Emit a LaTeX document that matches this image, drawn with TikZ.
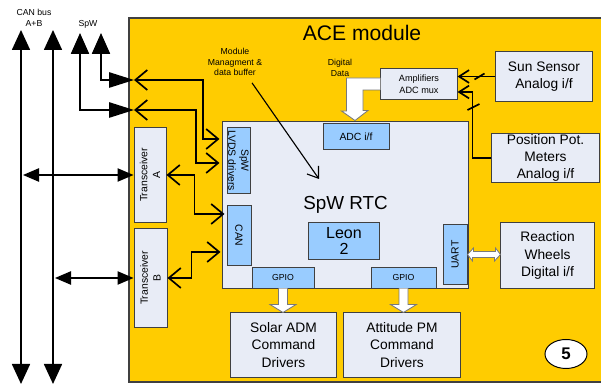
\documentclass[tikz,border=0pt]{standalone}
\usepackage{fontspec}
\setmainfont{Liberation Sans}
\usepackage{tikz}
\usetikzlibrary{arrows.meta, calc, positioning, shapes.geometric}

\definecolor{acegold}{HTML}{FFCC00}
\definecolor{panel}{HTML}{E8ECF6}
\definecolor{chip}{HTML}{99CCFF}
\definecolor{edge}{HTML}{404040}

\tikzset{
  panelbox/.style={draw=edge, fill=panel, line width=0.7pt, inner sep=0pt, align=center},
  chipbox/.style={draw=edge, fill=chip, line width=0.7pt, inner sep=0pt, align=center},
  wire/.style={line width=1.2pt},
  busline/.style={wire, {Triangle[length=0.5cm,width=0.45cm]}-{Triangle[length=0.5cm,width=0.45cm]}},
  spwline/.style={wire, {Triangle[length=0.52cm,width=0.45cm]}-{Triangle[length=0.62cm,width=0.38cm]}},
  tap/.style={wire, {Triangle[length=0.4cm,width=0.33cm]}-{Triangle[length=0.4cm,width=0.33cm]}},
  barbs/.style={wire, {Straight Barb[length=0.3cm,width=0.5cm]}-{Straight Barb[length=0.3cm,width=0.5cm]}},
  ampin/.style={wire, -{Straight Barb[length=0.25cm,width=0.32cm]}},
  hollow/.style={draw=edge!70, fill=white, line width=0.6pt},
  txtS/.style={font=\fontsize{6.2}{7.6}\selectfont},
  txtR/.style={font=\fontsize{7.4}{9.2}\selectfont},
  txtM/.style={font=\fontsize{9.8}{12.2}\selectfont},
}

\begin{document}
\begin{tikzpicture}[x=0.025cm, y=-0.025cm, >=Stealth]
  \useasboundingbox (0,0) rectangle (601,385);
  % module frame
  \node[draw=edge, fill=acegold, line width=0.8pt, inner sep=0pt, minimum width=11.8cm, minimum height=9.1cm] (ace) at (365,200) {};
  \node[font=\fontsize{15}{18}\selectfont] (title) at (362,33) {ACE module};
  \node[txtS, align=center] (canlbl) at (34,18) {CAN bus\\A+B};
  \node[txtS] (spwlbl) at (88,24) {SpW};

  % boxes
  \node[panelbox, font=\fontsize{13.4}{16}\selectfont, minimum width=6.125cm, minimum height=4.15cm] (rtc) at (345.5,205) {SpW RTC};
  \node[chipbox, txtR, rotate=-90, minimum width=1.625cm, minimum height=0.575cm] (lvds) at (238.5,160.5) {SpW\\LVDS drivers};
  \node[chipbox, txtR, rotate=-90, minimum width=1.475cm, minimum height=0.6cm] (can) at (239,235.5) {CAN};
  \node[chipbox, txtR, minimum width=1.65cm, minimum height=0.625cm] (adc) at (356,136.5) {ADC i/f};
  \node[chipbox, font=\fontsize{11.4}{11}\selectfont, minimum width=1.75cm, minimum height=0.9cm] (leon) at (344,241) {Leon\\2};
  \node[chipbox, txtR, rotate=90, minimum width=1.475cm, minimum height=0.6cm] (uart) at (455,254.5) {UART};
  \node[chipbox, txtS, minimum width=1.55cm, minimum height=0.525cm] (gpioL) at (283,277.5) {GPIO};
  \node[chipbox, txtS, minimum width=1.625cm, minimum height=0.525cm] (gpioR) at (403.5,277.5) {GPIO};
  \node[panelbox, txtR, rotate=90, minimum width=2.35cm, minimum height=0.8cm] (transA) at (150,175) {Transceiver\\A};
  \node[panelbox, txtR, rotate=90, minimum width=2.45cm, minimum height=0.825cm] (transB) at (150.5,278) {Transceiver\\B};
  \node[panelbox, txtM, minimum width=2.625cm, minimum height=1.6cm] (solar) at (283.5,345) {Solar ADM\\Command\\Drivers};
  \node[panelbox, txtM, minimum width=2.9cm, minimum height=1.6cm] (att) at (402,345) {Attitude PM\\Command\\Drivers};
  \node[panelbox, txtM, minimum width=2.325cm, minimum height=1.625cm] (react) at (547.5,255.5) {Reaction\\Wheels\\Digital i/f};
  \node[panelbox, txtM, minimum width=2.4cm, minimum height=1.225cm] (sun) at (544,76.5) {Sun Sensor\\Analog i/f};
  \node[panelbox, txtM, minimum width=2.675cm, minimum height=1.2cm] (pos) at (545.5,158) {Position Pot.\\Meters\\Analog i/f};
  \node[panelbox, font=\fontsize{6.5}{8.4}\selectfont, minimum width=1.9cm, minimum height=0.75cm] (amp) at (419,84) {Amplifiers\\ADC mux};
  \node[draw=black, fill=white, ellipse, line width=0.7pt, inner sep=0pt, minimum width=1.05cm, minimum height=0.725cm, font=\bfseries\fontsize{12}{14}\selectfont] (five) at (566,354) {5};
  \node[txtS, align=center] (mgmt) at (235,62) {Module\\Managment \&\\data buffer};
  \node[txtS, align=center] (digdata) at (340,68) {Digital\\Data};

  % buses on the left
  \coordinate (busAtop) at (21,30);
  \coordinate (busAbot) at (21,384);
  \coordinate (busBtop) at (53,30);
  \coordinate (busBbot) at (53,384);
  \coordinate (spw1) at (101,33);
  \coordinate (spw2) at (80,33);
  \coordinate (port1) at (134,80);
  \coordinate (port2) at (134,110);
  \draw[busline] (busAtop) -- (busAbot);
  \draw[busline] (busBtop) -- (busBbot);
  \draw[tap] ($(busAtop |- transA.north)+(2,0)$) -- (transA.north);
  \draw[tap] ($(busBtop |- transB.north)+(2,0)$) -- (transB.north);
  \draw[spwline] (spw1) |- (port1);
  \draw[spwline] (spw2) |- (port2);

  % links inside the module
  \draw[barbs] (port1) -- ++(69,0) |- ($(lvds.south)+(-7,-21.5)$);
  \draw[barbs] (port2) -- ++(62,0) |- ($(lvds.south)+(-7,2.5)$);
  \draw[barbs] (transA.south) -- ++(28,0) |- ($(can.south)+(-2,-21.5)$);
  \draw[barbs] (transB.south) -- ++(24,0) |- ($(can.south)+(-6,16.5)$);
  \draw[ampin] (sun.west) -- (amp.east |- sun.west);
  \draw[wire] ($(sun.west)+(-21,3)$) -- ++(10,-6);
  \draw[ampin] (pos.west) -- ++(-19,0) |- ($(amp.east)+(0,8)$);
  \draw[wire] ($(pos.west)+(-24,-48)$) -- ++(12,-6);
  \draw[line width=0.8pt, -{Straight Barb[length=0.25cm,width=0.35cm]}] ($(mgmt.south)+(17,2)$) -- ($(rtc.center)+(-26.5,-26)$);

  % block arrows
  \draw[hollow] ($(amp.west)+(0,-6)$) -- ++(-34,0) -- ++(0,33) -- ++(-5,0) -- ($(adc.north)+(-1,-3)$) -- ++(13,-10) -- ++(-5,0) |- ($(amp.west)+(0,6)$);
  \foreach \src/\dst in {gpioL/solar, gpioR/att} {
    \draw[hollow] ($(\src.south)+(-4.5,0)$) |- ++(-8.5,16) -- (\src.south |- \dst.north) -- ($(\src.south)+(13,16)$) -- ++(-8.5,0) -- ($(\src.south)+(4.5,0)$);
  }
  \draw[hollow] (uart.south) -- ++(6,-6.5) -- ++(0,3.5) -- ++(22,0) -- ++(0,-3.5) -- (react.west |- uart.south) -- ++(-6,6.5) -- ++(0,-3.5) -- ++(-22,0) -- ++(0,3.5) -- cycle;
\end{tikzpicture}
\end{document}
